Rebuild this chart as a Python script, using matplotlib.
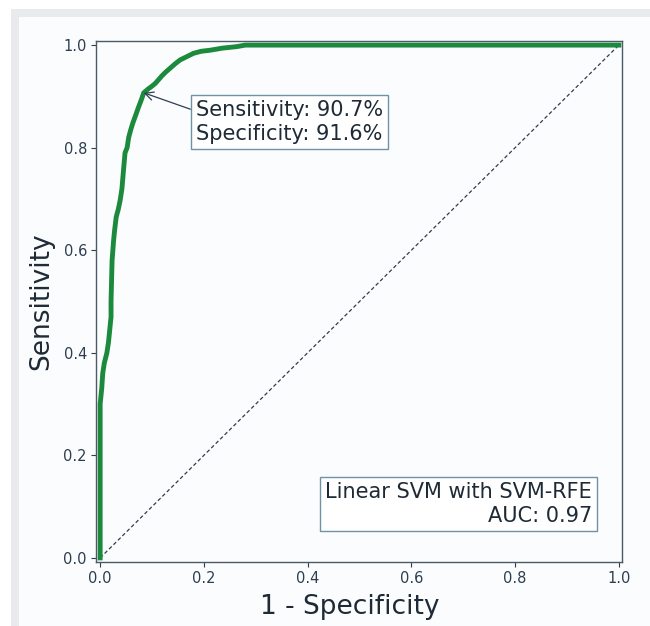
import matplotlib
matplotlib.use("Agg")
import matplotlib.pyplot as plt
from matplotlib.patches import Rectangle

# ROC curve values
fpr = [0.0, 0.0, 0.003, 0.005, 0.008, 0.013, 0.016, 0.018, 0.021, 0.021, 0.023, 0.026,
       0.028, 0.031, 0.035, 0.0385, 0.042, 0.045, 0.048, 0.052, 0.055, 0.059, 0.063,
       0.068, 0.074, 0.080, 0.084, 0.092, 0.100, 0.106, 0.113, 0.119, 0.127, 0.135,
       0.144, 0.154, 0.166, 0.180, 0.195, 0.212, 0.235, 0.263, 0.28, 1.0]
tpr = [0.0, 0.30, 0.33, 0.36, 0.38, 0.40, 0.42, 0.44, 0.47, 0.50, 0.58, 0.62,
       0.64, 0.665, 0.68, 0.697, 0.72, 0.756, 0.79, 0.80, 0.82, 0.835, 0.848,
       0.862, 0.879, 0.895, 0.907, 0.914, 0.92, 0.925, 0.933, 0.94, 0.948, 0.955,
       0.963, 0.971, 0.977, 0.984, 0.988, 0.99, 0.994, 0.997, 1.0, 1.0]
chance = [0.0, 1.0]
ticks = [0.0, 0.2, 0.4, 0.6, 0.8, 1.0]
tick_labels = ["0.0", "0.2", "0.4", "0.6", "0.8", "1.0"]
op_point = (0.084, 0.907)
op_text = "Sensitivity: 90.7%\nSpecificity: 91.6%"
model_text = "Linear SVM with SVM-RFE\nAUC: 0.97"

W, H = 650, 626
fig = plt.figure(figsize=(W / 100, H / 100), dpi=100)
fig.patch.set_facecolor("white")

# gray frame (top and left bands)
gray = "#e9eaec"
fig.patches.append(Rectangle((11 / W, 1 - 17 / H), 1 - 11 / W, 8 / H,
                             transform=fig.transFigure, facecolor=gray, edgecolor="none", zorder=-10))
fig.patches.append(Rectangle((11 / W, 0), 8 / W, 1 - 9 / H,
                             transform=fig.transFigure, facecolor=gray, edgecolor="none", zorder=-10))
fig.patches.append(Rectangle((19 / W, 0), 1 - 19 / W, 1 - 17 / H,
                             transform=fig.transFigure, facecolor="#fbfcfd", edgecolor="none", zorder=-10))

left, right, top, bottom = 96, 622, 41, 562
ax = fig.add_axes([left / W, 1 - bottom / H, (right - left) / W, (bottom - top) / H])
ax.set_zorder(5)
ax.set_facecolor("#fbfcfd")

spine_col = "#4c5a68"
for s in ax.spines.values():
    s.set_color(spine_col)
    s.set_linewidth(1.0)

ax.plot(chance, chance, linestyle="--", color="#2e3e50", linewidth=0.9, dashes=(3, 2))
ax.plot(fpr, tpr, color="#1c8a3c", linewidth=3.5, solid_joinstyle="miter")

ax.set_xlim(-0.008, 1.006)
ax.set_ylim(-0.008, 1.008)
ax.set_xticks(ticks)
ax.set_xticklabels(tick_labels)
ax.set_yticks(ticks)
ax.set_yticklabels(tick_labels)
ax.tick_params(labelsize=10.5, colors="#2e3e50", length=3.5, width=0.8, pad=3)

ax.set_xlabel("1 - Specificity", fontsize=19, color="#1e2a36")
ax.xaxis.set_label_coords(0.483, -0.062)
ax.set_ylabel("Sensitivity", fontsize=19, color="#1e2a36", labelpad=7)

box_style = dict(boxstyle="square,pad=0.25", facecolor="white", edgecolor="#6f93a6", linewidth=1.0)
ax.annotate(op_text, xy=op_point, xytext=(0.185, 0.85), textcoords="data",
            fontsize=15, color="#1e2a36", ha="left", va="center",
            bbox=box_style,
            arrowprops=dict(arrowstyle="->", color="#2e3e50", linewidth=0.9,
                            relpos=(0.0, 0.75), shrinkA=0, shrinkB=0))

ax.text(0.948, 0.105, model_text, fontsize=15, color="#1e2a36", ha="right", va="center",
        multialignment="right", bbox=box_style)

fig.savefig("out.png", dpi=100, facecolor=fig.get_facecolor())
